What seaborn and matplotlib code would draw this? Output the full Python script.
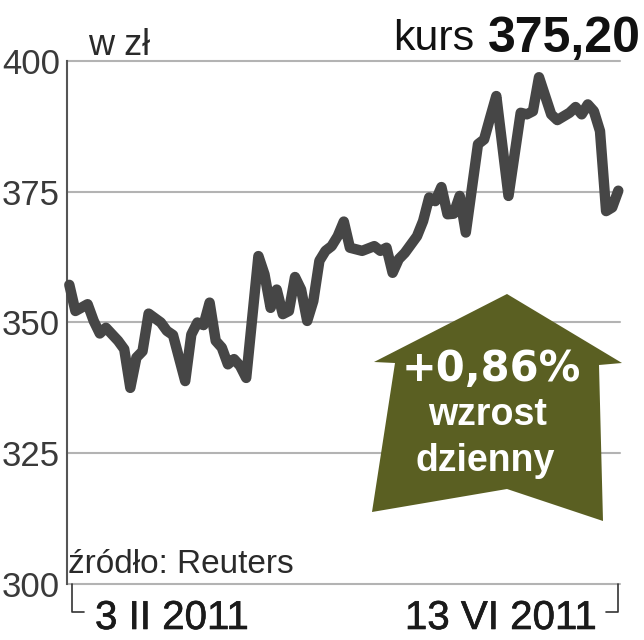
import numpy as np
import pandas as pd
import seaborn as sns
import matplotlib.pyplot as plt
import matplotlib.patheffects as pe
from matplotlib.patches import Polygon

# kurs w zł, 3 II 2011 - 13 VI 2011 (numer sesji od poczatku okresu)
day = [0, 1, 3, 4, 5, 6, 8, 9, 10, 11, 12, 13, 15, 16, 17, 19, 20, 21, 22, 23,
       24, 25, 26, 27, 28, 29, 31, 32, 33, 34, 35, 36, 37, 38, 39, 40, 41, 42, 43, 44,
       45, 46, 48, 50, 51, 52, 53, 54, 55, 57, 58, 59, 60, 61, 62, 63, 64, 65, 67, 68,
       69, 70, 72, 74, 75, 76, 77, 79, 80, 82, 83, 84, 85, 86, 87, 88, 89, 90]
price = [357.2, 352.2, 353.5, 350.3, 347.9, 349.0, 346.5, 344.9, 337.5, 343.3,
         344.5, 351.7, 350.0, 348.4, 347.6, 338.8, 347.7, 350.0, 349.5, 353.8,
         346.5, 345.2, 342.0, 343.0, 341.7, 339.4, 362.7, 359.2, 352.8, 356.3,
         351.6, 352.2, 358.7, 356.3, 350.3, 354.1, 361.8, 363.7, 364.6, 366.5,
         369.3, 364.3, 363.7, 364.6, 363.7, 364.3, 359.5, 362.1, 363.3, 366.5,
         369.4, 373.9, 373.2, 375.9, 370.7, 370.8, 374.2, 367.2, 384.1, 385.0,
         389.2, 393.3, 374.2, 390.1, 389.8, 390.4, 396.9, 389.8, 388.7, 390.1,
         391.2, 389.8, 391.7, 390.4, 386.6, 371.3, 372.0, 375.2]
yticks = [300, 325, 350, 375, 400]
date_labels = ["3 II 2011", "13 VI 2011"]
last_close = "375,20"
change = "+0,86%"

df = pd.DataFrame({"day": day, "price": price})

sns.set_style("white")
plt.rcParams['font.family'] = ['Liberation Sans', 'DejaVu Sans']

W, H = 644, 640
def px(x, y):
    return x / W, 1 - y / H

fig = plt.figure(figsize=(6.44, 6.4), dpi=100)
ax = fig.add_axes([67 / W, 1 - 584 / H, (620 - 67) / W, (584 - 61) / H])

for t in yticks:
    ax.axhline(t, color="#b3b3b3", lw=1.5, zorder=1, clip_on=False)
sns.lineplot(data=df, x="day", y="price", ax=ax, color="#464646", lw=7.5,
             solid_joinstyle="round", solid_capstyle="round", zorder=3, clip_on=False)

ax.set_xlim(-0.38, 90.28)
ax.set_ylim(300, 400)
ax.set_yticks(yticks)
ax.set_yticklabels([str(t) for t in yticks], fontsize=25, color="#3a3a3a")
ax.tick_params(axis="y", length=0, pad=5)
ax.set_xticks([])
ax.set_xlabel("")
ax.set_ylabel("")
for s in ["top", "right", "bottom"]:
    ax.spines[s].set_visible(False)
ax.spines["left"].set_color("#555555")
ax.spines["left"].set_linewidth(1.5)

# nawiasy pod osia x
fig.canvas.draw()
inv = fig.transFigure.inverted()
for d, sgn, dx in [(day[0], 1, 3), (day[-1], -1, 0)]:
    x0, y0 = ax.transData.transform((d, 300))
    x0 += dx
    pts = inv.transform([(x0, y0), (x0, y0 - 28), (x0 + sgn * 12, y0 - 28)])
    fig.add_artist(plt.Line2D(pts[:, 0], pts[:, 1], color="#333333", lw=1.2))

thick = [pe.withStroke(linewidth=0.45, foreground="#1a1a1a")]
ax.annotate(date_labels[0], xy=(day[0], 300), xycoords=("data", "data"),
            xytext=(18.5, -32.4), textcoords="offset points", ha="left", va="baseline",
            fontsize=29, color="#1a1a1a", annotation_clip=False, path_effects=thick)
ax.annotate(date_labels[1], xy=(day[-1], 300), xycoords=("data", "data"),
            xytext=(-15.3, -32.4), textcoords="offset points", ha="right", va="baseline",
            fontsize=29, color="#1a1a1a", annotation_clip=False, path_effects=thick)

fig.text(*px(88, 55), "w zł", fontsize=26, color="#2a2a2a", ha="left", va="baseline")
fig.text(*px(68, 573), "źródło: Reuters", fontsize=24, color="#2a2a2a",
         ha="left", va="baseline")
fig.text(*px(474, 50), "kurs", fontsize=31, color="#111111", ha="right", va="baseline")
fig.text(*px(641, 52), last_close, fontsize=36, fontweight="bold", color="#111111",
         ha="right", va="baseline")

# zielona strzalka
arrow = [(507, 294), (622, 363), (599, 365), (603, 521), (507, 489),
         (372, 512), (395, 363), (374, 362)]
fig.add_artist(Polygon([px(*p) for p in arrow], closed=True, facecolor="#5a5f22",
                       edgecolor="none", transform=fig.transFigure, zorder=5))
fig.text(*px(491, 381), change, fontsize=30, fontweight="bold", color="white",
         family=["DejaVu Sans"], ha="center", va="baseline", zorder=6)
fig.text(*px(488, 425), "wzrost", fontsize=27, fontweight="bold", color="white",
         ha="center", va="baseline", zorder=6)
fig.text(*px(485, 471), "dzienny", fontsize=27, fontweight="bold", color="white",
         ha="center", va="baseline", zorder=6)

fig.savefig("out.png", dpi=100)
